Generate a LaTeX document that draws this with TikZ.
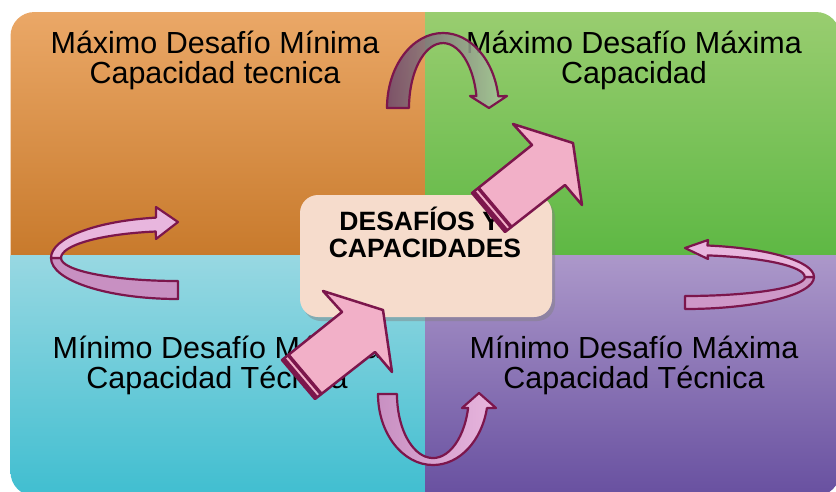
\documentclass[tikz,border=0pt]{standalone}
\usepackage{fontspec}
\setmainfont{Liberation Sans}
\usetikzlibrary{shadows}

\definecolor{tlTop}{RGB}{236,170,106}
\definecolor{tlBot}{RGB}{200,122,44}
\definecolor{trTop}{RGB}{156,206,114}
\definecolor{trBot}{RGB}{94,184,68}
\definecolor{blTop}{RGB}{152,216,226}
\definecolor{blBot}{RGB}{64,190,208}
\definecolor{brTop}{RGB}{172,152,202}
\definecolor{brBot}{RGB}{104,80,160}
\definecolor{coreFill}{RGB}{246,220,204}
\definecolor{edgeDark}{RGB}{124,22,76}
\definecolor{blockFill}{RGB}{242,176,200}
\definecolor{bandLight}{RGB}{232,182,222}
\definecolor{bandDark}{RGB}{200,144,194}
\definecolor{topL}{RGB}{108,70,108}
\definecolor{topR}{RGB}{170,204,158}

\tikzset{
  quadtext/.style={font=\fontsize{30.5}{30.5}\selectfont, align=center, anchor=base, inner sep=0pt},
  coretext/.style={font=\bfseries\fontsize{26.5}{27}\selectfont, align=center, anchor=base, inner sep=0pt},
  corebox/.style={rounded corners=18pt, fill=coreFill, minimum width=252pt, minimum height=122pt,
    drop shadow={shadow xshift=3pt, shadow yshift=-4pt, opacity=.45}},
  bandedge/.style={draw=edgeDark, line width=2.2pt, line join=round},
  blockedge/.style={draw=edgeDark, line width=2.5pt, line join=round},
  bigarrow/.pic={
    \draw[blockedge, fill=blockFill] (0,0) -- (60,-48) -- (41,-69) -- (101,-50) -- (110,12) -- (93,-8) -- (33,39) -- cycle;
    \draw[blockedge, line width=4pt] (1.6,-1.25) -- (34.6,37.75);
    \draw[blockedge, line width=3.5pt] (6.2,-5) -- (39.2,34);
  }
}

\begin{document}
\begin{tikzpicture}[x=1pt, y=-1pt]
  \useasboundingbox (0,0) rectangle (836,491);
  \fill[white] (0,0) rectangle (836,491);

  % four quadrants
  \begin{scope}
    \clip[rounded corners=24pt] (10.5,12) rectangle (840,496);
    \shade[top color=tlTop, bottom color=tlBot] (0,0) rectangle (425,255);
    \shade[top color=trTop, bottom color=trBot] (425,0) rectangle (840,255);
    \shade[top color=blTop, bottom color=blBot] (0,255) rectangle (425,496);
    \shade[top color=brTop, bottom color=brBot] (425,255) rectangle (840,496);
  \end{scope}

  % anchor=base sits on the last line
  \node[quadtext] (tl) at (215,83.5) {Máximo Desafío Mínima\\Capacidad tecnica};
  \node[quadtext] (tr) at (634,83.5) {Máximo Desafío Máxima\\Capacidad};
  \node[quadtext] (bl) at (217,388.5) {Mínimo Desafío Máxima\\Capacidad Técnica};
  \node[quadtext] (br) at (634,388.5) {Mínimo Desafío Máxima\\Capacidad Técnica};

  % left turning arrow
  \draw[bandedge, fill=bandDark] (51,258) arc[start angle=180, end angle=90, x radius=127, y radius=41]
    -- (178,281) arc[start angle=90, end angle=180, x radius=117, y radius=23] -- cycle;
  \draw[bandedge, fill=bandLight] (51,258) arc[start angle=180, end angle=260, x radius=127, y radius=41]
    -- (156,207) -- (178,222) -- (156,239) -- (155.7,231.5)
    arc[start angle=259, end angle=180, x radius=117, y radius=27] -- cycle;

  % right turning arrow
  \draw[bandedge, fill=bandDark!80!bandLight] (685,309) arc[start angle=90, end angle=0, x radius=129, y radius=32]
    -- (805,277) arc[start angle=0, end angle=90, x radius=120, y radius=19] -- cycle;
  \draw[bandedge, fill=bandLight] (814,277) arc[start angle=360, end angle=280, x radius=129, y radius=32]
    -- (708,240) -- (685,248) -- (708,259) -- (707.6,255.4)
    arc[start angle=281, end angle=360, x radius=120, y radius=22] -- cycle;

  % top turning arrow
  \draw[bandedge, left color=topL, right color=topR, fill opacity=.85] (387,108)
    arc[start angle=180, end angle=351, x radius=56, y radius=75]
    -- (507,96) -- (489,108) -- (470,96) -- (476.4,96)
    arc[start angle=349.3, end angle=180, x radius=34, y radius=65] -- cycle;

  % bottom turning arrow
  \draw[bandedge, left color=bandDark, right color=bandLight] (378,394)
    arc[start angle=180, end angle=11.4, x radius=55, y radius=71]
    -- (496,408) -- (479,393) -- (462,408) -- (468.1,408)
    arc[start angle=12.6, end angle=180, x radius=36, y radius=64] -- cycle;

  % centre
  \node[corebox] (core) at (426,256) {};
  \node[coretext] (title) at (425,257) {DESAFÍOS Y\hspace*{0.4em}\\CAPACIDADES};

  \pic at (472,193) {bigarrow};
  \pic at (282,360) {bigarrow};
\end{tikzpicture}
\end{document}
